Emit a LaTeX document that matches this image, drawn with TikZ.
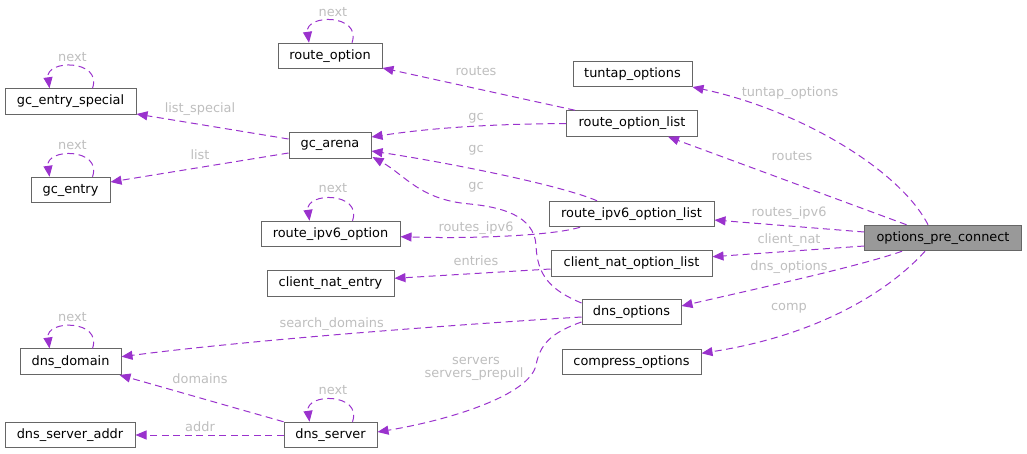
\documentclass[tikz,border=0pt]{standalone}
\usepackage{fontspec}
\setmainfont{DejaVu Sans}
\usetikzlibrary{arrows.meta}
\definecolor{edgec}{HTML}{9A32CD}
\definecolor{lblc}{HTML}{BEBEBE}
\definecolor{boxc}{HTML}{666666}
\definecolor{rootc}{HTML}{999999}
\newcommand\myloop[1]{\draw[edge] ([xshift=22pt]#1.north) .. controls ([xshift=32pt,yshift=29pt]#1.north) and ([xshift=-25pt,yshift=29pt]#1.north) .. ([xshift=-21pt]#1.north);}
\begin{document}
\begin{tikzpicture}[x=1pt,y=-1pt,
  box/.style={draw=boxc, line width=1pt, fill=white, minimum height=25.5pt,
    inner xsep=2pt, inner ysep=0pt, font=\fontsize{12.9}{15}\selectfont, text=black},
  edge/.style={draw=edgec, line width=1pt, dash pattern=on 7pt off 4.5pt,
    -{Triangle[length=11pt,width=9pt,fill=edgec]}},
  lbl/.style={text=lblc, font=\fontsize{12.9}{15}\selectfont, inner sep=0pt, align=center}]
\useasboundingbox (0,0) rectangle (1027,453);

% nodes
\node[box,minimum width=104pt] (ro) at (330,56) {route\_option};
\node[box,minimum width=131pt] (ges) at (70.5,101.5) {gc\_entry\_special};
\node[box,minimum width=82pt] (ga) at (330,145.5) {gc\_arena};
\node[box,minimum width=79pt] (ge) at (70.5,190) {gc\_entry};
\node[box,minimum width=119pt] (tt) at (632.5,73.8) {tuntap\_options};
\node[box,minimum width=131pt] (rol) at (632,123.5) {route\_option\_list};
\node[box,minimum width=165pt] (r6l) at (631.5,214) {route\_ipv6\_option\_list};
\node[box,minimum width=156.5pt,fill=rootc] (opc) at (943,238) {options\_pre\_connect};
\node[box,minimum width=161pt] (cnl) at (631.5,263.5) {client\_nat\_option\_list};
\node[box,minimum width=99pt] (dno) at (631.5,312) {dns\_options};
\node[box,minimum width=139pt] (cmp) at (631.5,362) {compress\_options};
\node[box,minimum width=139pt] (r6) at (330.5,234) {route\_ipv6\_option};
\node[box,minimum width=127pt] (cne) at (330.5,283.3) {client\_nat\_entry};
\node[box,minimum width=101pt] (dd) at (70.5,361.7) {dns\_domain};
\node[box,minimum width=93pt] (ds) at (330.5,435) {dns\_server};
\node[box,minimum width=130pt] (dsa) at (70,435) {dns\_server\_addr};

% self loops
\myloop{ro}
\myloop{ges}
\myloop{ge}
\myloop{r6}
\myloop{dd}
\myloop{ds}

% edges
\draw[edge] ([yshift=6.5pt]ga.west) -- ([yshift=-12.5pt]ges.east);
\draw[edge] ([yshift=-7.5pt]ga.west) -- ([yshift=8pt]ge.east);
\draw[edge] ([xshift=-57pt]rol.north) -- ([yshift=-12pt]ro.east);
\draw[edge] (rol.west) .. controls (490,124) and (430,128) .. ([yshift=8.5pt]ga.east);
\draw[edge] ([xshift=-34.5pt]r6l.north) .. controls (560,185) and (450,163) .. ([yshift=-5.5pt]ga.east);
\draw[edge] ([yshift=9pt]dno.west) .. controls (550,290) and (537,275) .. (536,245)
  .. controls (534,215) and (500,207) .. (470,204)
  .. controls (420,200) and (405,175) .. ([xshift=1pt,yshift=-11.5pt]ga.east);
\draw[edge] ([xshift=-51.5pt]r6l.south) .. controls (555,235) and (480,239) .. ([yshift=-2.7pt]r6.east);
\draw[edge] ([yshift=-5.5pt]cnl.west) -- ([yshift=5pt]cne.east);
\draw[edge] ([yshift=-5pt]dno.west) .. controls (450,325) and (250,340) .. ([yshift=5pt]dd.east);
\draw[edge] ([yshift=-10pt]dno.west) .. controls (550,333) and (540,345) .. (536,365)
  .. controls (530,395) and (450,420) .. ([yshift=3pt]ds.east);
\draw[edge] (ds.north west) -- ([xshift=-2pt]dd.south east);
\draw[edge] (ds.west) -- (dsa.east);
\draw[edge] ([xshift=-15pt]opc.north) .. controls (900,170) and (800,110) .. (tt.south east);
\draw[edge] ([xshift=-36.5pt]opc.north) -- ([xshift=36pt]rol.south);
\draw[edge] ([yshift=6pt]opc.west) -- ([yshift=-6pt]r6l.east);
\draw[edge] ([yshift=-8pt]opc.west) -- ([yshift=6.8pt]cnl.east);
\draw[edge] ([xshift=-41pt]opc.south) .. controls (860,266) and (760,288) .. ([yshift=6pt]dno.east);
\draw[edge] ([xshift=-18pt]opc.south) .. controls (890,290) and (820,335) .. ([yshift=8.7pt]cmp.east);

% labels
\node[lbl] (n1) at (333,12) {next};
\node[lbl] (n2) at (72.5,57) {next};
\node[lbl] (n3) at (72.5,145) {next};
\node[lbl] (n4) at (333,188.5) {next};
\node[lbl] (n5) at (72.5,316.7) {next};
\node[lbl] (n6) at (333,390) {next};
\node[lbl] (l1) at (200,109.3) {list\_special};
\node[lbl] (l2) at (200,154.3) {list};
\node[lbl] (l3) at (476,71) {routes};
\node[lbl] (l4) at (476,118) {gc};
\node[lbl] (l5) at (476,150) {gc};
\node[lbl] (l6) at (476,187) {gc};
\node[lbl] (l7) at (790,93) {tuntap\_options};
\node[lbl] (l8) at (792,156.5) {routes};
\node[lbl] (l9) at (789,213.3) {routes\_ipv6};
\node[lbl] (l10) at (789,240) {client\_nat};
\node[lbl] (l11) at (789,266.7) {dns\_options};
\node[lbl] (l12) at (789,308.3) {comp};
\node[lbl] (l13) at (476,228.3) {routes\_ipv6};
\node[lbl] (l14) at (476,261) {entries};
\node[lbl] (l15) at (331.7,324.3) {search\_domains};
\node[lbl] (l16) at (476,360.7) {servers};
\node[lbl] (l17) at (474,374) {servers\_prepull};
\node[lbl] (l18) at (200,378.3) {domains};
\node[lbl] (l19) at (200,426.7) {addr};
\end{tikzpicture}
\end{document}
